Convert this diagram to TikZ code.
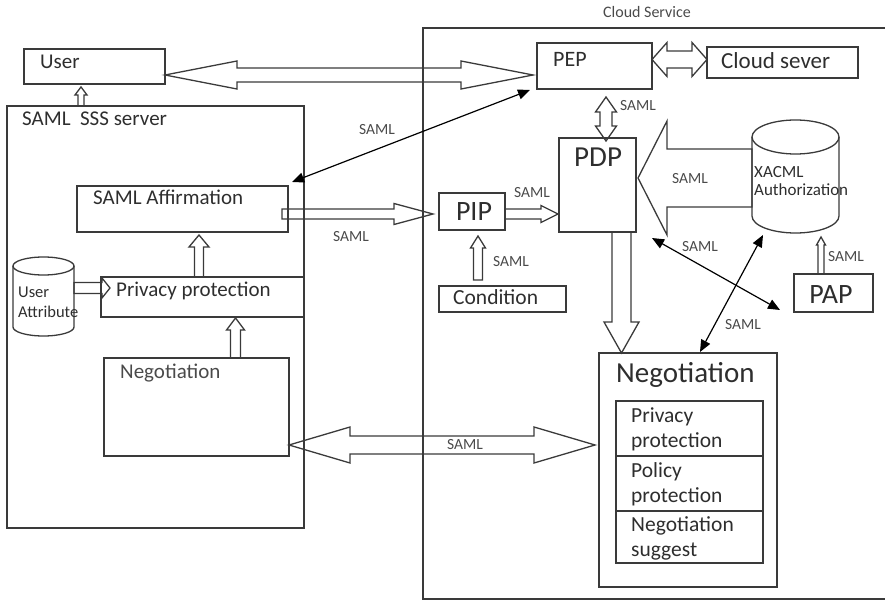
\documentclass[tikz,border=0pt]{standalone}
\usepackage{fontspec}
\setmainfont{Carlito}
\usetikzlibrary{calc,arrows.meta}

\definecolor{linec}{HTML}{3A3A3A}
\definecolor{textc}{HTML}{2E2E2E}
\definecolor{textl}{HTML}{4A4A4A}

\newcommand\fsz[1]{\fontsize{#1}{#1}\selectfont}

% hollow block arrow: from, to, shaft half width, head half width, head length
\newcommand\blockarrow[5]{%
  \draw[blk] ($(#1)!#3!90:(#2)$) -- ($(#2)!#5!(#1)!#3!90:(#2)$)
    -- ($(#2)!#5!(#1)!#4!90:(#2)$) -- (#2)
    -- ($(#2)!#5!(#1)!#4!-90:(#2)$) -- ($(#2)!#5!(#1)!#3!-90:(#2)$)
    -- ($(#1)!#3!-90:(#2)$) -- cycle;}
% hollow block arrow with a head at both ends
\newcommand\blockdarrow[5]{%
  \draw[blk] (#1) -- ($(#1)!#5!(#2)!#4!90:(#2)$) -- ($(#1)!#5!(#2)!#3!90:(#2)$)
    -- ($(#2)!#5!(#1)!#3!90:(#2)$) -- ($(#2)!#5!(#1)!#4!90:(#2)$) -- (#2)
    -- ($(#2)!#5!(#1)!#4!-90:(#2)$) -- ($(#2)!#5!(#1)!#3!-90:(#2)$)
    -- ($(#1)!#5!(#2)!#3!-90:(#2)$) -- ($(#1)!#5!(#2)!#4!-90:(#2)$) -- cycle;}

\begin{document}
\begin{tikzpicture}[x=1pt,y=-1pt,
  box/.style={draw=linec, line width=1.3pt, inner sep=0pt, outer sep=0pt, anchor=north west},
  area/.style={inner sep=0pt, outer sep=0pt, anchor=north west},
  txt/.style={inner sep=0pt, anchor=base west, text=textc},
  lbl/.style={inner sep=0pt, anchor=center, text=textl, font=\fsz{15.5}},
  blk/.style={draw=linec, line width=1.3pt, line join=miter},
  cyl/.style={draw=linec, line width=1.3pt},
  thinarrow/.style={draw=black, line width=1.2pt,
    {Triangle[length=12pt,width=10pt]}-{Triangle[length=12pt,width=10pt]}}
]
\useasboundingbox (0,0) rectangle (885,601);

% ---------- client side ----------
\node[box, minimum width=141pt, minimum height=35pt] (user) at (24,49) {};
\node[txt, font=\fsz{21}] (usert) at (40,69) {User};

\node[box, minimum width=297pt, minimum height=422pt] (sss) at (7,106) {};
\node[txt, font=\fsz{21}] (ssst) at (22,126) {SAML\ \ SSS server};

\node[box, minimum width=211pt, minimum height=46pt] (affirm) at (77,186) {};
\node[txt, font=\fsz{21}] (affirmt) at (93,205) {SAML Affirmation};

\node[box, minimum width=203pt, minimum height=40pt] (privl) at (101,277) {};
\node[txt, font=\fsz{21}] (privlt) at (116,297) {Privacy protection};

\node[box, minimum width=185pt, minimum height=98pt] (negl) at (104,358) {};
\node[txt, font=\fsz{21}, text=textl] (neglt) at (120,378) {Negotiation};

% user attribute store
\node[area, minimum width=61pt, minimum height=79pt] (uattr) at (13,257) {};
\draw[cyl] (13,266) -- (13,327) arc[start angle=180, end angle=360, x radius=30.5pt, y radius=9pt] -- (74,266);
\draw[cyl] (43.5,266) ellipse[x radius=30.5pt, y radius=9pt];
\node[txt, font=\fsz{16.5}] (uattrt1) at (18,298) {User};
\node[txt, font=\fsz{16.5}] (uattrt2) at (18,317) {Attribute};

% ---------- cloud side ----------
\node[box, minimum width=470pt, minimum height=571pt] (cloud) at (423,28) {};
\node[inner sep=0pt, anchor=base, text=textl, font=\fsz{16}] (cloudt) at (647,18) {Cloud Service};

\node[box, minimum width=115pt, minimum height=46pt] (pep) at (537,43) {};
\node[txt, font=\fsz{22}] (pept) at (553,67) {PEP};

\node[box, minimum width=151pt, minimum height=31pt] (csrv) at (707,47) {};
\node[txt, font=\fsz{23}] (csrvt) at (721,69) {Cloud sever};

\node[box, minimum width=77pt, minimum height=94pt] (pdp) at (559,138) {};
\node[txt, font=\fsz{29}] (pdpt) at (574,167) {PDP};

% XACML store
\node[area, minimum width=87pt, minimum height=113pt] (xacml) at (752,120) {};
\draw[cyl] (752,137) -- (752,216) arc[start angle=180, end angle=360, x radius=43.5pt, y radius=17pt] -- (839,137);
\draw[cyl] (795.5,137) ellipse[x radius=43.5pt, y radius=17pt];
\node[txt, font=\fsz{17}] (xacmlt1) at (754,178) {XACML};
\node[txt, font=\fsz{17}] (xacmlt2) at (754,196) {Authorization};

\node[box, minimum width=66pt, minimum height=37pt] (pip) at (439,193) {};
\node[inner sep=0pt, anchor=base, text=textc, font=\fsz{28}] (pipt) at (474,221) {PIP};

\node[box, minimum width=127pt, minimum height=26pt] (cond) at (439,286) {};
\node[txt, font=\fsz{21.5}] (condt) at (453,305) {Condition};

\node[box, minimum width=79pt, minimum height=38pt] (pap) at (794,274) {};
\node[inner sep=0pt, anchor=base, text=textc, font=\fsz{28}] (papt) at (831,304) {PAP};

\node[box, minimum width=178pt, minimum height=234pt] (negr) at (599,353) {};
\node[txt, font=\fsz{29}] (negrt) at (616,382) {Negotiation};
\node[box, minimum width=147pt, minimum height=55pt] (nr1) at (616,401) {};
\node[box, minimum width=147pt, minimum height=55pt] (nr2) at (616,456) {};
\node[box, minimum width=147pt, minimum height=52pt] (nr3) at (616,511) {};
\node[txt, font=\fsz{21.5}] (nr1a) at (631,422) {Privacy};
\node[txt, font=\fsz{21.5}] (nr1b) at (631,447) {protection};
\node[txt, font=\fsz{21.5}] (nr2a) at (631,477) {Policy};
\node[txt, font=\fsz{21.5}] (nr2b) at (631,502) {protection};
\node[txt, font=\fsz{21.5}] (nr3a) at (631,531) {Negotiation};
\node[txt, font=\fsz{21.5}] (nr3b) at (631,556) {suggest};

% ---------- connector ends ----------
\coordinate (uA) at (user.east |- 0,75);
\coordinate (pA) at (533,75);
\coordinate (sB) at (81,106);
\coordinate (uB) at (81,87);
\coordinate (pC) at (pep.east |- 0,59.5);
\coordinate (cC) at (csrv.west |- 0,59.5);
\coordinate (pD) at (606,97);
\coordinate (dD) at (606,141);
\coordinate (aE) at ($(affirm.north east)+(4,-4)$);
\coordinate (pE) at ($(pep.south west)+(-7,1)$);
\coordinate (aF) at (282,214);
\coordinate (iF) at (433,214);
\coordinate (rG) at (privl.north -| 199,0);
\coordinate (aG) at (199,235);
\coordinate (uH) at (uattr.east |- 0,288);
\coordinate (rH) at (110,288);
\coordinate (nI) at (negl.north -| 235.5,0);
\coordinate (rI) at (235.5,318);
\coordinate (lJ) at (negl.east |- 0,445);
\coordinate (rJ) at (595,445);
\coordinate (iK) at (pip.east |- 0,214);
\coordinate (dK) at (558,214);
\coordinate (cL) at (478,280);
\coordinate (iL) at (478,236);
\coordinate (xM) at (xacml.west |- 0,178);
\coordinate (dM) at (638,178);
\coordinate (dN) at (pdp.south -| 621.5,0);
\coordinate (nN) at (621.5,353);
\coordinate (dO) at (652,238);
\coordinate (pO) at (780,310);
\coordinate (nP) at (700,352);
\coordinate (xP) at (763,235);
\coordinate (aQ) at (pap.north -| 821,0);
\coordinate (xQ) at (821,237);

% ---------- connectors ----------
\blockdarrow{uA}{pA}{7pt}{14pt}{72pt}
\blockarrow{sB}{uB}{3pt}{6pt}{8pt}
\blockdarrow{pC}{cC}{8.5pt}{17pt}{15pt}
\blockdarrow{pD}{dD}{6pt}{10.5pt}{15pt}
\draw[thinarrow] (aE) -- (pE);
\blockarrow{aF}{iF}{5pt}{10.5pt}{39pt}
\blockarrow{rG}{aG}{4.5pt}{10pt}{12pt}
\blockarrow{uH}{rH}{5.5pt}{10pt}{8pt}
\blockarrow{nI}{rI}{5pt}{9pt}{12pt}
\blockdarrow{lJ}{rJ}{9pt}{18pt}{61pt}
\blockarrow{iK}{dK}{5pt}{8.5pt}{17pt}
\blockarrow{cL}{iL}{4.5pt}{7.5pt}{12pt}
\blockarrow{xM}{dM}{29pt}{57pt}{29pt}
\blockarrow{dN}{nN}{9.5pt}{17.5pt}{31pt}
\draw[thinarrow] (dO) -- (pO);
\draw[thinarrow] (nP) -- (xP);
\blockarrow{aQ}{xQ}{3pt}{4.5pt}{8pt}

% ---------- labels ----------
\node[lbl] (lE) at (377,130) {SAML};
\node[lbl] (lF) at (351,237) {SAML};
\node[lbl] (lD) at (638,106) {SAML};
\node[lbl] (lK) at (532,193) {SAML};
\node[lbl] (lM) at (690,179) {SAML};
\node[lbl] (lL) at (511,262) {SAML};
\node[lbl] (lO) at (700,247) {SAML};
\node[lbl] (lP) at (743,325) {SAML};
\node[lbl] (lQ) at (846,257) {SAML};
\node[lbl] (lJ) at (465,445) {SAML};
\end{tikzpicture}
\end{document}
